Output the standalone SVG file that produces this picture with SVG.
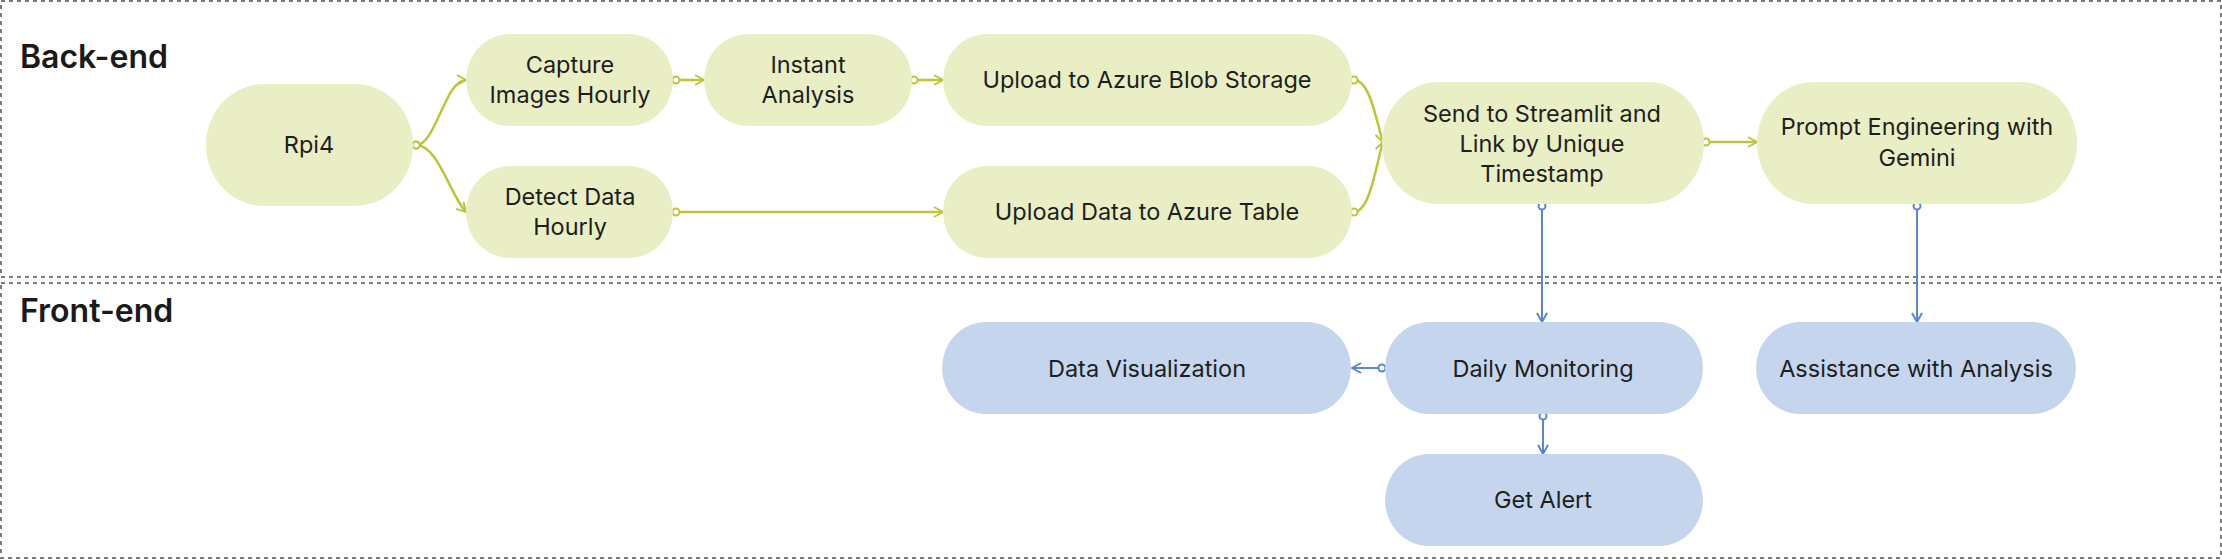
<svg xmlns="http://www.w3.org/2000/svg" width="2222" height="560" viewBox="0 0 2222 560">
  <style>
    .lane { fill: none; stroke: #7a7a7a; stroke-width: 2; stroke-dasharray: 4 4; }
    .lanelabel { font-family: Inter, "Noto Sans", sans-serif; font-size: 32px; font-weight: 600; fill: #1a1a1a; }
    .g { fill: #eaeec5; }
    .b { fill: #c5d5ee; }
    .t { font-family: Inter, "Noto Sans", sans-serif; font-size: 23.5px; fill: #1e1e1e; text-anchor: middle; }
    .cg { fill: none; stroke: #bcc53b; stroke-width: 2.5; marker-start: url(#sg); marker-end: url(#ag); }
    .cb { fill: none; stroke: #5b87cf; stroke-width: 2; marker-start: url(#sb); marker-end: url(#ab); }
  </style>
  <defs>
    <marker id="ag" viewBox="0 0 12 12" refX="11" refY="6" markerWidth="12" markerHeight="12" markerUnits="userSpaceOnUse" orient="auto">
      <path d="M2,1 L11,6 L2,11" fill="none" stroke="#bcc53b" stroke-width="2"/>
    </marker>
    <marker id="sg" viewBox="0 0 10 10" refX="5" refY="5" markerWidth="10" markerHeight="10" markerUnits="userSpaceOnUse" orient="auto">
      <circle cx="5" cy="5" r="3.5" fill="#ffffff" stroke="#bcc53b" stroke-width="2"/>
    </marker>
    <marker id="ab" viewBox="0 0 12 12" refX="11" refY="6" markerWidth="12" markerHeight="12" markerUnits="userSpaceOnUse" orient="auto">
      <path d="M2,1 L11,6 L2,11" fill="none" stroke="#5b87cf" stroke-width="2"/>
    </marker>
    <marker id="sb" viewBox="0 0 10 10" refX="5" refY="5" markerWidth="10" markerHeight="10" markerUnits="userSpaceOnUse" orient="auto">
      <circle cx="5" cy="5" r="3.5" fill="#ffffff" stroke="#5b87cf" stroke-width="2"/>
    </marker>
  </defs>

  <g id="lane-backend">
    <rect class="lane" x="1" y="1" width="2220" height="276"/>
    <text class="lanelabel" x="20" y="68">Back-end</text>
  </g>
  <g id="lane-frontend">
    <rect class="lane" x="1" y="283" width="2220" height="275"/>
    <text class="lanelabel" x="20" y="322">Front-end</text>
  </g>

  <g id="connectors">
    <path class="cg" d="M416,145 C436,145 445,80 466,80"/>
    <path class="cg" d="M416,145 C438,145 450,195 466,212"/>
    <path class="cg" d="M676,80 L704,80"/>
    <path class="cg" d="M914,80 L943,80"/>
    <path class="cg" d="M676,212 L943,212"/>
    <path class="cg" d="M1354,80 C1370,80 1376,120 1383,142"/>
    <path class="cg" d="M1354,212 C1370,212 1376,165 1383,142"/>
    <path class="cg" d="M1706,142 L1757,142"/>
    <path class="cb" d="M1542,206 L1542,322"/>
    <path class="cb" d="M1917,206 L1917,322"/>
    <path class="cb" d="M1382,368 L1352,368"/>
    <path class="cb" d="M1543,416 L1543,454"/>
  </g>

  <g id="node-rpi4">
    <rect class="g" x="206" y="84" width="207" height="122" rx="58" ry="61"/>
    <text class="t" x="309" y="153">Rpi4</text>
  </g>
  <g id="node-capture">
    <rect class="g" x="466" y="34" width="207" height="92" rx="44" ry="46"/>
    <text class="t" x="570" y="73">Capture</text>
    <text class="t" x="570" y="103">Images Hourly</text>
  </g>
  <g id="node-detect">
    <rect class="g" x="466" y="166" width="207" height="92" rx="44" ry="46"/>
    <text class="t" x="570" y="205">Detect Data</text>
    <text class="t" x="570" y="235">Hourly</text>
  </g>
  <g id="node-instant">
    <rect class="g" x="704" y="34" width="208" height="92" rx="44" ry="46"/>
    <text class="t" x="808" y="73">Instant</text>
    <text class="t" x="808" y="103">Analysis</text>
  </g>
  <g id="node-blob">
    <rect class="g" x="943" y="34" width="409" height="92" rx="44" ry="46"/>
    <text class="t" x="1147" y="88">Upload to Azure Blob Storage</text>
  </g>
  <g id="node-table">
    <rect class="g" x="943" y="166" width="409" height="92" rx="44" ry="46"/>
    <text class="t" x="1147" y="220">Upload Data to Azure Table</text>
  </g>
  <g id="node-streamlit">
    <rect class="g" x="1382" y="82" width="322" height="122" rx="56" ry="61"/>
    <text class="t" x="1542" y="122">Send to Streamlit and</text>
    <text class="t" x="1542" y="152">Link by Unique</text>
    <text class="t" x="1542" y="182">Timestamp</text>
  </g>
  <g id="node-prompt">
    <rect class="g" x="1757" y="82" width="320" height="122" rx="56" ry="61"/>
    <text class="t" x="1917" y="135">Prompt Engineering with</text>
    <text class="t" x="1917" y="166">Gemini</text>
  </g>
  <g id="node-dataviz">
    <rect class="b" x="942" y="322" width="409" height="92" rx="44" ry="46"/>
    <text class="t" x="1147" y="377">Data Visualization</text>
  </g>
  <g id="node-daily">
    <rect class="b" x="1385" y="322" width="318" height="92" rx="44" ry="46"/>
    <text class="t" x="1543" y="377">Daily Monitoring</text>
  </g>
  <g id="node-assist">
    <rect class="b" x="1756" y="322" width="320" height="92" rx="44" ry="46"/>
    <text class="t" x="1916" y="377">Assistance with Analysis</text>
  </g>
  <g id="node-alert">
    <rect class="b" x="1385" y="454" width="318" height="92" rx="44" ry="46"/>
    <text class="t" x="1543" y="508">Get Alert</text>
  </g>
</svg>
